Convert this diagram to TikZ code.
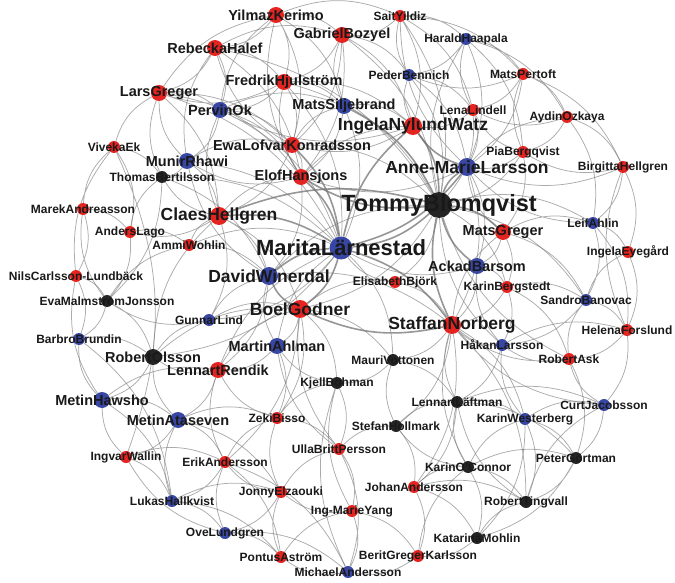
\documentclass[tikz,border=0pt]{standalone}
\usepackage{fontspec}
\setmainfont{Liberation Sans}
\usetikzlibrary{backgrounds}
\definecolor{nred}{RGB}{228,36,32}
\definecolor{nblue}{RGB}{56,70,164}
\definecolor{nblack}{RGB}{36,36,36}
\newcommand\labfont[1]{\fontsize{#1}{#1}\selectfont\bfseries}
\tikzset{
  v/.style={circle, inner sep=0pt, fill=#1},
  vs/.style={minimum size=12pt, label={[font=\labfont{12}, text=black!90]center:#1}},
  vm/.style={minimum size=16pt, label={[font=\labfont{14.5}, text=black!90]center:#1}},
  vl/.style={minimum size=18pt, label={[font=\labfont{17.5}, text=black!90]center:#1}},
  vxl/.style={minimum size=23pt, label={[font=\labfont{22}, text=black!90]center:#1}},
  vxxl/.style={minimum size=26pt, label={[font=\labfont{23.5}, text=black!90]center:#1}},
  link/.style={draw=black!55, opacity=0.6, line width=0.75pt, bend left=22},
  tie/.style={draw=black!55, opacity=0.75, line width=1.6pt, bend left=18}
}

\begin{document}
\begin{tikzpicture}[x=1pt, y=-1pt]
        \useasboundingbox (0,0) rectangle (675,583);

        % top
        \node[v=nred, vm=YilmazKerimo] (yilmaz) at (276,15) {};
        \node[v=nred, vm=GabrielBozyel] (gabriel) at (342,35) {};
        \node[v=nred, vs=SaitYildiz] (sait) at (400,16) {};
        \node[v=nblue, vs=HaraldHaapala] (harald) at (466,39) {};
        \node[v=nred, vm=RebeckaHalef] (rebecka) at (215,48) {};
        \node[v=nred, vm=FredrikHjulström] (fredrik) at (284,82) {};
        \node[v=nblue, vs=PederBennich] (peder) at (409,75) {};
        \node[v=nred, vs=MatsPertoft] (pertoft) at (523,74) {};
        \node[v=nred, vm=LarsGreger] (lars) at (159,93) {};
        \node[v=nblue, vm=PervinOk] (pervin) at (220,110) {};
        \node[v=nblue, vm=MatsSiljebrand] (siljebrand) at (344,106) {};
        \node[v=nred, vs=LenaLindell] (lena) at (473,110) {};
        \node[v=nred, vl=IngelaNylundWatz] (ingelaN) at (413,126) {};
        \node[v=nred, vs=AydinOzkaya] (aydin) at (567,117) {};
        \node[v=nred, vs=VivekaEk] (viveka) at (114,147) {};
        \node[v=nred, vm=EwaLofvarKonradsson] (ewa) at (292,145) {};
        \node[v=nblue, vm=MunirRhawi] (munir) at (187,161) {};
        \node[v=nred, vs=PiaBergqvist] (pia) at (523,152) {};
        \node[v=nblack, vs=ThomasBertilsson] (thomas) at (162,177) {};
        \node[v=nred, vm=ElofHansjons] (elof) at (301,177) {};
        \node[v=nblue, vl=Anne-MarieLarsson] (annemarie) at (467,167) {};
        \node[v=nred, vs=BirgittaHellgren] (birgitta) at (623,167) {};

        % middle
        \node[v=nblack, vxxl=TommyBlomqvist] (tommy) at (439,205) {};
        \node[v=nred, vl=ClaesHellgren] (claes) at (219,216) {};
        \node[v=nred, vs=MarekAndreasson] (marek) at (83,209) {};
        \node[v=nred, vm=MatsGreger] (matsG) at (503,232) {};
        \node[v=nblue, vs=LeifAhlin] (leif) at (593,223) {};
        \node[v=nred, vs=AndersLago] (anders) at (130,232) {};
        \node[v=nred, vs=AmmiWohlin] (ammi) at (189,245) {};
        \node[v=nred, vs=IngelaEyegård] (ingelaE) at (628,252) {};
        \node[v=nblue, vxl=MaritaLärnestad] (marita) at (341,248) {};
        \node[v=nblue, vm=AckadBarsom] (ackad) at (477,266) {};
        \node[v=nred, vs=NilsCarlsson-Lundbäck] (nils) at (76,276) {};
        \node[v=nblue, vl=DavidWinerdal] (david) at (269,276) {};
        \node[v=nred, vs=ElisabethBjörk] (elisabeth) at (395,282) {};
        \node[v=nred, vs=KarinBergstedt] (karinB) at (507,287) {};
        \node[v=nblack, vs=EvaMalmstromJonsson] (eva) at (107,301) {};
        \node[v=nblue, vs=SandroBanovac] (sandro) at (586,300) {};
        \node[v=nred, vl=BoelGodner] (boel) at (300,309) {};
        \node[v=nblue, vs=GunnarLind] (gunnar) at (209,320) {};
        \node[v=nred, vl=StaffanNorberg] (staffan) at (452,325) {};
        \node[v=nred, vs=HelenaForslund] (helena) at (627,330) {};
        \node[v=nblue, vs=BarbroBrundin] (barbro) at (79,339) {};
        \node[v=nblack, vm=RobertOlsson] (robertO) at (153,357) {};
        \node[v=nblue, vm=MartinAhlman] (martin) at (277,346) {};
        \node[v=nblack, vs=MauriVottonen] (mauri) at (393,360) {};
        \node[v=nblue, vs=HåkanLarsson] (hakan) at (502,345) {};
        \node[v=nred, vs=RobertAsk] (robertA) at (569,359) {};
        \node[v=nred, vm=LennartRendik] (lennartR) at (218,370) {};

        % bottom
        \node[v=nblack, vs=KjellBohman] (kjell) at (337,383) {};
        \node[v=nblue, vm=MetinHawsho] (metinH) at (102,400) {};
        \node[v=nblack, vs=LennartLäftman] (lennartL) at (457,402) {};
        \node[v=nblack, vs=StefanHollmark] (stefan) at (396,426) {};
        \node[v=nblue, vs=CurtJacobsson] (curt) at (604,405) {};
        \node[v=nblue, vm=MetinAtaseven] (metinA) at (178,420) {};
        \node[v=nred, vs=ZekiBisso] (zeki) at (277,418) {};
        \node[v=nblue, vs=KarinWesterberg] (karinW) at (525,419) {};
        \node[v=nred, vs=UllaBrittPersson] (ulla) at (339,449) {};
        \node[v=nred, vs=IngvarWallin] (ingvar) at (126,457) {};
        \node[v=nred, vs=ErikAndersson] (erik) at (225,462) {};
        \node[v=nblack, vs=PeterGörtman] (peter) at (576,458) {};
        \node[v=nblack, vs=KarinO'Connor] (karinO) at (468,467) {};
        \node[v=nred, vs=JohanAndersson] (johan) at (414,487) {};
        \node[v=nred, vs=JonnyElzaouki] (jonny) at (281,492) {};
        \node[v=nblue, vs=LukasHallkvist] (lukas) at (172,501) {};
        \node[v=nred, vs=Ing-MarieYang] (ingmarie) at (352,511) {};
        \node[v=nblack, vs=RobertTingvall] (robertT) at (526,502) {};
        \node[v=nblue, vs=OveLundgren] (ove) at (225,533) {};
        \node[v=nblack, vs=KatarinaMohlin] (katarina) at (477,538) {};
        \node[v=nred, vs=PontusAström] (pontus) at (281,557) {};
        \node[v=nred, vs=BeritGregerKarlsson] (berit) at (418,556) {};
        \node[v=nblue, vs=MichaelAndersson] (michael) at (348,572) {};

        \begin{scope}[on background layer]
        % heavy ties round the hubs
        \draw[tie] (tommy) to (marita) (tommy) to (annemarie) (staffan) to (tommy) (ingelaN) to (tommy);
        \draw[tie] (marita) to (boel) (david) to (marita) (marita) to (staffan) (boel) to (david);
        \draw[tie] (elof) to (marita) (tommy) to (elof) (claes) to (marita) (tommy) to (matsG);
        \draw[tie] (ackad) to (tommy) (annemarie) to (marita) (staffan) to (boel) (ewa) to (marita);
        \draw[tie] (siljebrand) to (tommy) (annemarie) to (ingelaN) (marita) to (ingelaN) (claes) to (tommy);

        % top left
        \draw[link] (yilmaz) to (rebecka) (lars) to (yilmaz) (yilmaz) to (fredrik) (pervin) to (yilmaz) (yilmaz) to (gabriel) (yilmaz) to (ewa) (yilmaz) to (siljebrand) (elof) to (yilmaz) (yilmaz) to (sait);
        \draw[link] (rebecka) to (lars) (rebecka) to (pervin) (rebecka) to (fredrik) (munir) to (rebecka) (rebecka) to (gabriel) (ewa) to (rebecka) (rebecka) to (tommy) (rebecka) to (elof);
        \draw[link] (lars) to (pervin) (munir) to (lars) (lars) to (claes) (lars) to (ewa) (fredrik) to (lars) (thomas) to (lars) (lars) to (marita) (lars) to (elof);
        \draw[link] (pervin) to (munir) (fredrik) to (pervin) (pervin) to (elof) (pervin) to (ewa) (claes) to (pervin) (pervin) to (siljebrand) (pervin) to (marita) (ingelaN) to (pervin);
        \draw[link] (gabriel) to (fredrik) (siljebrand) to (gabriel) (gabriel) to (ewa) (gabriel) to (elof) (gabriel) to (ingelaN) (gabriel) to (tommy) (sait) to (gabriel) (gabriel) to (peder);
        \draw[link] (fredrik) to (siljebrand) (fredrik) to (ewa) (elof) to (fredrik) (fredrik) to (marita) (fredrik) to (tommy) (fredrik) to (ingelaN);
        \draw[link] (siljebrand) to (ingelaN) (siljebrand) to (marita) (ewa) to (siljebrand) (siljebrand) to (elof);
        \draw[link] (ewa) to (elof) (munir) to (ewa) (ewa) to (claes) (ewa) to (tommy) (elof) to (munir) (claes) to (elof) (elof) to (david) (elof) to (ingelaN) (ingelaN) to (ewa);
        \draw[link] (munir) to (thomas) (munir) to (claes) (munir) to (marita) (david) to (munir) (claes) to (david) (claes) to (boel) (ammi) to (claes) (claes) to (thomas);

        % top right
        \draw[link] (sait) to (harald) (peder) to (sait) (sait) to (lena) (sait) to (ingelaN) (annemarie) to (sait) (sait) to (tommy) (sait) to (pertoft);
        \draw[link] (harald) to (peder) (harald) to (pertoft) (lena) to (harald) (harald) to (aydin) (harald) to (annemarie) (tommy) to (harald) (harald) to (pia);
        \draw[link] (peder) to (lena) (ingelaN) to (peder) (peder) to (tommy) (peder) to (annemarie) (pertoft) to (peder);
        \draw[link] (pertoft) to (lena) (pertoft) to (aydin) (pia) to (pertoft) (pertoft) to (annemarie) (pertoft) to (birgitta);
        \draw[link] (lena) to (ingelaN) (lena) to (annemarie) (pia) to (lena) (lena) to (tommy) (aydin) to (lena);
        \draw[link] (aydin) to (pia) (aydin) to (birgitta) (annemarie) to (aydin) (aydin) to (leif);
        \draw[link] (pia) to (annemarie) (birgitta) to (pia) (pia) to (tommy) (pia) to (matsG);
        \draw[link] (birgitta) to (leif) (birgitta) to (ingelaE) (helena) to (birgitta) (birgitta) to (annemarie);
        \draw[link] (leif) to (ingelaE) (matsG) to (leif) (leif) to (sandro) (leif) to (helena) (tommy) to (leif) (ingelaE) to (helena) (sandro) to (ingelaE) (leif) to (annemarie);
        \draw[link] (annemarie) to (staffan) (matsG) to (annemarie) (annemarie) to (ackad) (annemarie) to (elof);

        % right middle
        \draw[link] (matsG) to (ackad) (matsG) to (karinB) (staffan) to (matsG) (matsG) to (sandro);
        \draw[link] (ackad) to (karinB) (ackad) to (staffan) (hakan) to (ackad) (ackad) to (marita);
        \draw[link] (karinB) to (staffan) (karinB) to (sandro) (karinB) to (hakan) (tommy) to (karinB) (karinB) to (robertA);
        \draw[link] (sandro) to (helena) (robertA) to (sandro) (sandro) to (hakan) (helena) to (robertA) (hakan) to (helena) (helena) to (curt) (tommy) to (sandro);
        \draw[link] (robertA) to (hakan) (robertA) to (staffan) (curt) to (robertA) (robertA) to (peter) (robertA) to (tommy);
        \draw[link] (hakan) to (staffan) (hakan) to (lennartL) (karinW) to (hakan) (hakan) to (tommy);
        \draw[link] (elisabeth) to (marita) (tommy) to (elisabeth) (elisabeth) to (staffan) (boel) to (elisabeth);
        \draw[link] (staffan) to (mauri) (lennartL) to (staffan) (staffan) to (karinW) (david) to (staffan) (tommy) to (boel) (david) to (tommy);
        \draw[link] (staffan) to (johan) (karinO) to (staffan) (staffan) to (stefan) (staffan) to (robertT) (curt) to (staffan);

        % bottom right
        \draw[link] (lennartL) to (karinW) (karinO) to (lennartL) (lennartL) to (curt) (stefan) to (lennartL) (lennartL) to (peter) (lennartL) to (johan) (robertT) to (lennartL);
        \draw[link] (karinW) to (curt) (karinW) to (peter) (karinO) to (karinW) (karinW) to (robertT) (karinW) to (katarina);
        \draw[link] (curt) to (peter) (robertT) to (curt) (peter) to (robertT) (peter) to (katarina) (karinO) to (peter);
        \draw[link] (karinO) to (robertT) (karinO) to (katarina) (johan) to (karinO) (karinO) to (stefan);
        \draw[link] (katarina) to (robertT) (johan) to (katarina) (katarina) to (berit) (johan) to (berit) (stefan) to (johan) (johan) to (robertT);
        \draw[link] (berit) to (michael) (ingmarie) to (berit) (berit) to (karinO);
        \draw[link] (stefan) to (mauri) (ulla) to (stefan) (mauri) to (kjell) (boel) to (mauri) (mauri) to (lennartL) (marita) to (mauri);

        % bottom left
        \draw[link] (metinH) to (metinA) (ingvar) to (metinH) (metinH) to (lukas) (robertO) to (metinH) (metinH) to (barbro) (metinH) to (lennartR);
        \draw[link] (metinA) to (ingvar) (lukas) to (metinA) (metinA) to (erik) (metinA) to (zeki) (lennartR) to (metinA) (metinA) to (jonny) (metinA) to (robertO);
        \draw[link] (ingvar) to (lukas) (ingvar) to (erik) (ove) to (ingvar) (lukas) to (ove) (erik) to (lukas) (lukas) to (pontus) (lukas) to (jonny);
        \draw[link] (ove) to (pontus) (jonny) to (ove) (ove) to (erik) (ove) to (michael);
        \draw[link] (pontus) to (jonny) (michael) to (pontus) (pontus) to (ingmarie) (erik) to (pontus);
        \draw[link] (jonny) to (zeki) (jonny) to (erik) (ingmarie) to (jonny) (jonny) to (ulla);
        \draw[link] (zeki) to (ulla) (erik) to (zeki) (zeki) to (kjell) (zeki) to (lennartR) (boel) to (zeki);
        \draw[link] (ulla) to (ingmarie) (kjell) to (ulla) (ulla) to (michael) (ingmarie) to (michael) (ingmarie) to (kjell) (michael) to (kjell);
        \draw[link] (kjell) to (martin) (martin) to (zeki) (boel) to (martin) (martin) to (lennartR) (martin) to (marita) (ulla) to (martin) (boel) to (kjell) (ulla) to (boel);
        \draw[link] (lennartR) to (robertO) (lennartR) to (boel) (erik) to (lennartR) (erik) to (michael) (boel) to (erik) (david) to (lennartR) (martin) to (david);
        \draw[link] (robertO) to (gunnar) (barbro) to (robertO) (robertO) to (boel) (marita) to (robertO) (lennartR) to (marita);

        % left
        \draw[link] (viveka) to (thomas) (marek) to (viveka) (viveka) to (anders) (viveka) to (lars) (nils) to (viveka) (viveka) to (ingvar);
        \draw[link] (marek) to (anders) (marek) to (nils) (eva) to (marek);
        \draw[link] (anders) to (ammi) (anders) to (eva) (claes) to (anders) (anders) to (thomas);
        \draw[link] (nils) to (eva) (nils) to (barbro) (metinH) to (nils) (eva) to (barbro) (gunnar) to (eva) (eva) to (robertO) (thomas) to (eva);
        \draw[link] (barbro) to (lukas) (gunnar) to (boel) (gunnar) to (david) (marita) to (gunnar) (claes) to (gunnar) (robertO) to (claes);
        \draw[link] (ammi) to (marita) (ammi) to (david) (eva) to (ammi) (thomas) to (marita) (thomas) to (david);
        \end{scope}
      \end{tikzpicture}
\end{document}
